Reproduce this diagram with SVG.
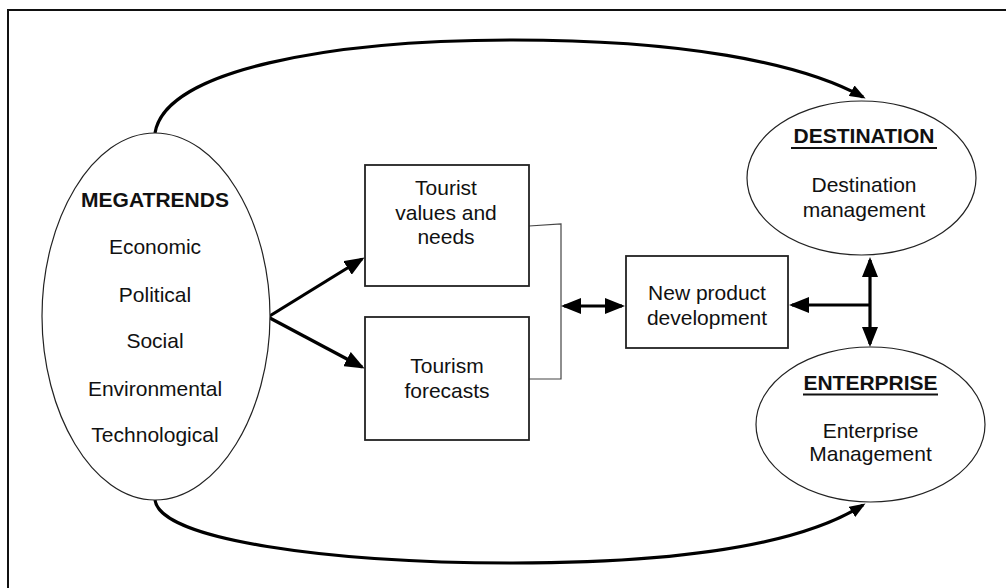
<svg xmlns="http://www.w3.org/2000/svg" width="1006" height="588" viewBox="0 0 1006 588">
<style>
text{font-family:"Liberation Sans",Arial,sans-serif;font-size:21px;fill:#111;text-anchor:middle}
.b{font-weight:bold;font-size:21px}
.shape{fill:#fff;stroke:#222;stroke-width:1.2}
.box{fill:#fff;stroke:#222;stroke-width:1.8}
.thick{fill:none;stroke:#000;stroke-width:3.2}
.thin{fill:none;stroke:#444;stroke-width:1.2}
.ul{stroke:#111;stroke-width:1.8}
</style>
<defs>
<marker id="ah" viewBox="0 0 20 16" refX="17" refY="8" markerWidth="20" markerHeight="16" markerUnits="userSpaceOnUse" orient="auto-start-reverse">
<path d="M0,0 L20,8 L0,16 Z" fill="#000"/>
</marker>
<marker id="ahs" viewBox="0 0 16 12" refX="13" refY="6" markerWidth="16" markerHeight="12" markerUnits="userSpaceOnUse" orient="auto">
<path d="M0,0 L16,6 L0,12 Z" fill="#000"/>
</marker>
</defs>
<rect width="1006" height="588" fill="#fff"/>
<path d="M1006,10 H8 V588" fill="none" stroke="#111" stroke-width="2"/>

<g id="connectors">
<path class="thick" d="M155,133 C165,70 330,40 513,40 C680,40 800,62 863,97" marker-end="url(#ahs)"/>
<path class="thick" d="M155,500 C160,540 330,563 513,563 C680,563 800,545 863,505" marker-end="url(#ahs)"/>
<line class="thick" x1="268" y1="317" x2="362" y2="259" marker-end="url(#ah)"/>
<line class="thick" x1="268" y1="317" x2="362" y2="367" marker-end="url(#ah)"/>
<path class="thin" d="M529,226 L561,224 L561,379 L529,379"/>
<line class="thick" x1="564" y1="306" x2="622" y2="306" marker-start="url(#ah)" marker-end="url(#ah)"/>
<line class="thick" x1="870" y1="260" x2="870" y2="344" marker-start="url(#ah)" marker-end="url(#ah)"/>
<line class="thick" x1="870" y1="305" x2="792" y2="305" marker-end="url(#ah)"/>
</g>

<g id="megatrends">
<path class="shape" d="M155,133 C218,133 270,220 270,316 C270,412 218,500 155,500 C92,500 42,412 42,316 C42,220 92,133 155,133 Z"/>
<text class="b" x="155" y="207">MEGATRENDS</text>
<text x="155" y="254">Economic</text>
<text x="155" y="302">Political</text>
<text x="155" y="348">Social</text>
<text x="155" y="396">Environmental</text>
<text x="155" y="442">Technological</text>
</g>

<g id="tourist-values">
<rect class="box" x="365" y="165" width="164" height="121"/>
<text x="446" y="195">Tourist</text>
<text x="446" y="220">values and</text>
<text x="446" y="244">needs</text>
</g>

<g id="tourism-forecasts">
<rect class="box" x="365" y="317" width="164" height="123"/>
<text x="447" y="373">Tourism</text>
<text x="447" y="398">forecasts</text>
</g>

<g id="new-product">
<rect class="box" x="626" y="256" width="162" height="92"/>
<text x="707" y="300">New product</text>
<text x="707" y="325">development</text>
</g>

<g id="destination">
<ellipse class="shape" cx="861.5" cy="178" rx="114.5" ry="77"/>
<text class="b" x="864" y="143">DESTINATION</text>
<line class="ul" x1="791" y1="148" x2="937" y2="148"/>
<text x="864" y="192">Destination</text>
<text x="864" y="217">management</text>
</g>

<g id="enterprise">
<ellipse class="shape" cx="870.5" cy="424.5" rx="114.5" ry="77.5"/>
<text class="b" x="870.5" y="390">ENTERPRISE</text>
<line class="ul" x1="803" y1="394.5" x2="938" y2="394.5"/>
<text x="870.5" y="438">Enterprise</text>
<text x="870.5" y="461">Management</text>
</g>
</svg>
